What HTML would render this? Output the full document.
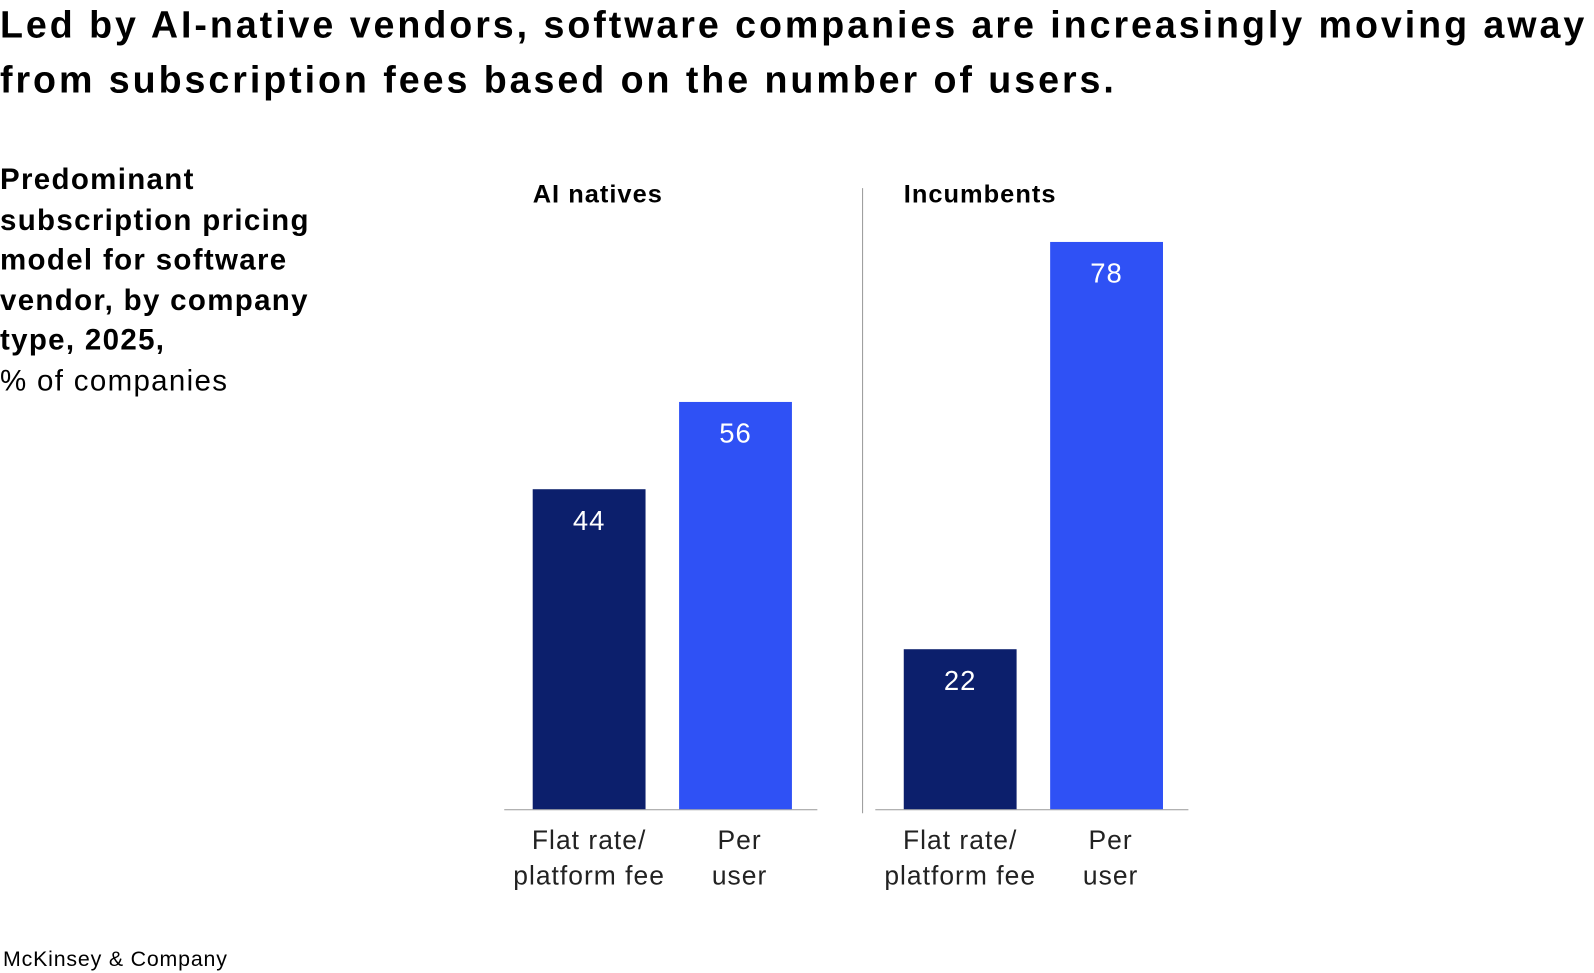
<!DOCTYPE html>
<html><head><meta charset="utf-8"><style>
body{margin:0;width:1594px;height:973px;background:#fff;font-family:"Liberation Sans",sans-serif;color:#000;overflow:hidden}
#wrap{position:absolute;left:0;top:0;width:1568px;height:957px;transform:scale(1.0166);transform-origin:0 0}
#title{position:absolute;left:0;top:-2px;font-size:37px;letter-spacing:2.9px;font-weight:bold;line-height:54px;white-space:nowrap}
#sub{position:absolute;left:0;top:158px;font-size:29px;letter-spacing:1.3px;line-height:39.5px;width:340px}
#foot{position:absolute;left:3px;top:932px;font-size:21px;letter-spacing:0.8px}
svg{position:absolute;left:0;top:0}
</style></head><body>
<div id="wrap">
<div id="title">Led by AI-native vendors, software companies are increasingly moving away<br>from subscription fees based on the number of users.</div>
<div id="sub"><b>Predominant subscription pricing model for software vendor, by company type, 2025,</b><br>% of companies</div>
<div id="foot">McKinsey &amp; Company</div>
<svg id="chart" width="1568" height="957"></svg>
</div>
<script>
const groups=["AI natives","Incumbents"];
const categories=["Flat rate/|platform fee","Per|user"];
const flatRate=[44,22];
const perUser=[56,78];
const NS="http://www.w3.org/2000/svg";
const svg=document.getElementById('chart');
const baseY=796, scale=558/78;
const y=v=>baseY-v*scale;
const groupX=[524,889], barW=111, gap=144;
const colors=["#0c1f6c","#2f51f5"];
function mk(t,a){const e=document.createElementNS(NS,t);for(const k in a)e.setAttribute(k,a[k]);svg.appendChild(e);return e;}
groups.forEach((g,gi)=>{
  const gx=groupX[gi];
  const gt=mk('text',{x:gx,y:199,'font-size':25,'letter-spacing':1,'font-weight':'bold','font-family':'Liberation Sans'});
  gt.textContent=g;
  
  
  const ax=mk('line',{x1:gx-28,x2:gx+280,y1:baseY+0.5,y2:baseY+0.5,stroke:'#999','stroke-width':1});
  
  
  [flatRate[gi],perUser[gi]].forEach((v,ci)=>{
    const x=gx+ci*gap;
    const r=mk('rect',{x:x,y:y(v),width:barW,height:baseY-y(v),fill:colors[ci]});
    
    
    const t=mk('text',{x:x+barW/2,y:y(v)+40,'text-anchor':'middle',fill:'#fff','font-size':27,'letter-spacing':1,'font-family':'Liberation Sans'});
    t.textContent=v;
    
    
    categories[ci].split('|').forEach((ln,li)=>{
      const c=mk('text',{x:x+barW/2+(ci?4:0),y:835+li*35,'text-anchor':'middle','font-size':26,'letter-spacing':1,fill:'#222','font-family':'Liberation Sans'});
      c.textContent=ln;
      
      
    });
  });
});
const d=mk('line',{x1:848.5,x2:848.5,y1:185,y2:800,stroke:'#999','stroke-width':1});


</script>
</body></html>
